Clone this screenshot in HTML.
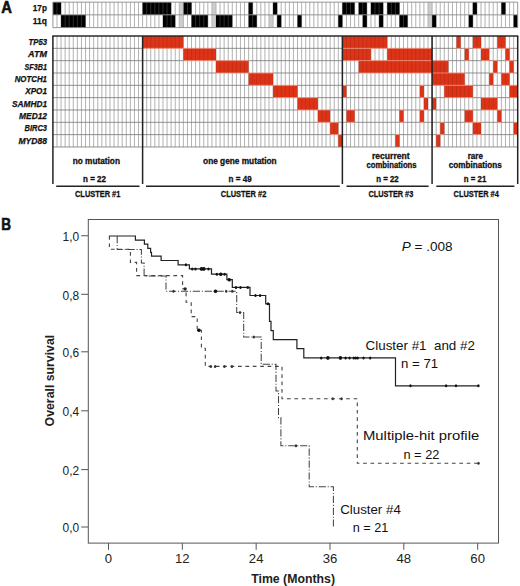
<!DOCTYPE html>
<html><head><meta charset="utf-8"><style>
html,body{margin:0;padding:0;background:#fff;}
svg{display:block;}
svg text{font-family:"Liberation Sans", sans-serif;}
</style></head><body>
<svg width="520" height="586" viewBox="0 0 520 586">
<rect width="520" height="586" fill="#fff"/>
<path d="M56.98 2.15V27.6M56.98 36.0V146.97M61.05 2.15V27.6M61.05 36.0V146.97M65.13 2.15V27.6M65.13 36.0V146.97M69.21 2.15V27.6M69.21 36.0V146.97M73.29 2.15V27.6M73.29 36.0V146.97M77.36 2.15V27.6M77.36 36.0V146.97M81.44 2.15V27.6M81.44 36.0V146.97M85.52 2.15V27.6M85.52 36.0V146.97M89.59 2.15V27.6M89.59 36.0V146.97M93.67 2.15V27.6M93.67 36.0V146.97M97.75 2.15V27.6M97.75 36.0V146.97M101.83 2.15V27.6M101.83 36.0V146.97M105.90 2.15V27.6M105.90 36.0V146.97M109.98 2.15V27.6M109.98 36.0V146.97M114.06 2.15V27.6M114.06 36.0V146.97M118.14 2.15V27.6M118.14 36.0V146.97M122.21 2.15V27.6M122.21 36.0V146.97M126.29 2.15V27.6M126.29 36.0V146.97M130.37 2.15V27.6M130.37 36.0V146.97M134.44 2.15V27.6M134.44 36.0V146.97M138.52 2.15V27.6M138.52 36.0V146.97M142.60 2.15V27.6M142.60 36.0V146.97M146.68 2.15V27.6M146.68 36.0V146.97M150.75 2.15V27.6M150.75 36.0V146.97M154.83 2.15V27.6M154.83 36.0V146.97M158.91 2.15V27.6M158.91 36.0V146.97M162.98 2.15V27.6M162.98 36.0V146.97M167.06 2.15V27.6M167.06 36.0V146.97M171.14 2.15V27.6M171.14 36.0V146.97M175.22 2.15V27.6M175.22 36.0V146.97M179.29 2.15V27.6M179.29 36.0V146.97M183.37 2.15V27.6M183.37 36.0V146.97M187.45 2.15V27.6M187.45 36.0V146.97M191.52 2.15V27.6M191.52 36.0V146.97M195.60 2.15V27.6M195.60 36.0V146.97M199.68 2.15V27.6M199.68 36.0V146.97M203.76 2.15V27.6M203.76 36.0V146.97M207.83 2.15V27.6M207.83 36.0V146.97M211.91 2.15V27.6M211.91 36.0V146.97M215.99 2.15V27.6M215.99 36.0V146.97M220.07 2.15V27.6M220.07 36.0V146.97M224.14 2.15V27.6M224.14 36.0V146.97M228.22 2.15V27.6M228.22 36.0V146.97M232.30 2.15V27.6M232.30 36.0V146.97M236.37 2.15V27.6M236.37 36.0V146.97M240.45 2.15V27.6M240.45 36.0V146.97M244.53 2.15V27.6M244.53 36.0V146.97M248.61 2.15V27.6M248.61 36.0V146.97M252.68 2.15V27.6M252.68 36.0V146.97M256.76 2.15V27.6M256.76 36.0V146.97M260.84 2.15V27.6M260.84 36.0V146.97M264.91 2.15V27.6M264.91 36.0V146.97M268.99 2.15V27.6M268.99 36.0V146.97M273.07 2.15V27.6M273.07 36.0V146.97M277.15 2.15V27.6M277.15 36.0V146.97M281.22 2.15V27.6M281.22 36.0V146.97M285.30 2.15V27.6M285.30 36.0V146.97M289.38 2.15V27.6M289.38 36.0V146.97M293.45 2.15V27.6M293.45 36.0V146.97M297.53 2.15V27.6M297.53 36.0V146.97M301.61 2.15V27.6M301.61 36.0V146.97M305.69 2.15V27.6M305.69 36.0V146.97M309.76 2.15V27.6M309.76 36.0V146.97M313.84 2.15V27.6M313.84 36.0V146.97M317.92 2.15V27.6M317.92 36.0V146.97M322.00 2.15V27.6M322.00 36.0V146.97M326.07 2.15V27.6M326.07 36.0V146.97M330.15 2.15V27.6M330.15 36.0V146.97M334.23 2.15V27.6M334.23 36.0V146.97M338.30 2.15V27.6M338.30 36.0V146.97M342.38 2.15V27.6M342.38 36.0V146.97M346.46 2.15V27.6M346.46 36.0V146.97M350.54 2.15V27.6M350.54 36.0V146.97M354.61 2.15V27.6M354.61 36.0V146.97M358.69 2.15V27.6M358.69 36.0V146.97M362.77 2.15V27.6M362.77 36.0V146.97M366.84 2.15V27.6M366.84 36.0V146.97M370.92 2.15V27.6M370.92 36.0V146.97M375.00 2.15V27.6M375.00 36.0V146.97M379.08 2.15V27.6M379.08 36.0V146.97M383.15 2.15V27.6M383.15 36.0V146.97M387.23 2.15V27.6M387.23 36.0V146.97M391.31 2.15V27.6M391.31 36.0V146.97M395.38 2.15V27.6M395.38 36.0V146.97M399.46 2.15V27.6M399.46 36.0V146.97M403.54 2.15V27.6M403.54 36.0V146.97M407.62 2.15V27.6M407.62 36.0V146.97M411.69 2.15V27.6M411.69 36.0V146.97M415.77 2.15V27.6M415.77 36.0V146.97M419.85 2.15V27.6M419.85 36.0V146.97M423.93 2.15V27.6M423.93 36.0V146.97M428.00 2.15V27.6M428.00 36.0V146.97M432.08 2.15V27.6M432.08 36.0V146.97M436.16 2.15V27.6M436.16 36.0V146.97M440.23 2.15V27.6M440.23 36.0V146.97M444.31 2.15V27.6M444.31 36.0V146.97M448.39 2.15V27.6M448.39 36.0V146.97M452.47 2.15V27.6M452.47 36.0V146.97M456.54 2.15V27.6M456.54 36.0V146.97M460.62 2.15V27.6M460.62 36.0V146.97M464.70 2.15V27.6M464.70 36.0V146.97M468.77 2.15V27.6M468.77 36.0V146.97M472.85 2.15V27.6M472.85 36.0V146.97M476.93 2.15V27.6M476.93 36.0V146.97M481.01 2.15V27.6M481.01 36.0V146.97M485.08 2.15V27.6M485.08 36.0V146.97M489.16 2.15V27.6M489.16 36.0V146.97M493.24 2.15V27.6M493.24 36.0V146.97M497.31 2.15V27.6M497.31 36.0V146.97M501.39 2.15V27.6M501.39 36.0V146.97M505.47 2.15V27.6M505.47 36.0V146.97M509.55 2.15V27.6M509.55 36.0V146.97M513.62 2.15V27.6M513.62 36.0V146.97" stroke="#bcbcbc" stroke-width="0.8" fill="none"/>
<rect x="52.90" y="2.15" width="8.15" height="12.70" fill="#000"/>
<rect x="142.60" y="2.15" width="28.54" height="12.70" fill="#000"/>
<rect x="183.37" y="2.15" width="8.15" height="12.70" fill="#000"/>
<rect x="248.61" y="2.15" width="4.08" height="12.70" fill="#000"/>
<rect x="273.07" y="2.15" width="4.08" height="12.70" fill="#000"/>
<rect x="342.38" y="2.15" width="12.23" height="12.70" fill="#000"/>
<rect x="358.69" y="2.15" width="8.15" height="12.70" fill="#000"/>
<rect x="370.92" y="2.15" width="12.23" height="12.70" fill="#000"/>
<rect x="387.23" y="2.15" width="12.23" height="12.70" fill="#000"/>
<rect x="472.85" y="2.15" width="4.08" height="12.70" fill="#000"/>
<rect x="501.39" y="2.15" width="4.08" height="12.70" fill="#000"/>
<rect x="179.29" y="2.15" width="4.08" height="12.70" fill="#cdcdcd"/>
<rect x="211.91" y="2.15" width="4.08" height="12.70" fill="#cdcdcd"/>
<rect x="428.00" y="2.15" width="4.08" height="12.70" fill="#cdcdcd"/>
<rect x="61.05" y="14.85" width="24.46" height="12.75" fill="#000"/>
<rect x="162.98" y="14.85" width="12.23" height="12.75" fill="#000"/>
<rect x="191.52" y="14.85" width="16.31" height="12.75" fill="#000"/>
<rect x="215.99" y="14.85" width="16.31" height="12.75" fill="#000"/>
<rect x="248.61" y="14.85" width="8.15" height="12.75" fill="#000"/>
<rect x="277.15" y="14.85" width="4.08" height="12.75" fill="#000"/>
<rect x="297.53" y="14.85" width="4.08" height="12.75" fill="#000"/>
<rect x="338.30" y="14.85" width="4.08" height="12.75" fill="#000"/>
<rect x="362.77" y="14.85" width="4.08" height="12.75" fill="#000"/>
<rect x="379.08" y="14.85" width="4.08" height="12.75" fill="#000"/>
<rect x="399.46" y="14.85" width="8.15" height="12.75" fill="#000"/>
<rect x="432.08" y="14.85" width="4.08" height="12.75" fill="#000"/>
<rect x="468.77" y="14.85" width="4.08" height="12.75" fill="#000"/>
<rect x="513.62" y="14.85" width="4.08" height="12.75" fill="#000"/>
<rect x="179.29" y="14.85" width="4.08" height="12.75" fill="#cdcdcd"/>
<rect x="211.91" y="14.85" width="4.08" height="12.75" fill="#cdcdcd"/>
<rect x="268.99" y="14.85" width="4.08" height="12.75" fill="#cdcdcd"/>
<rect x="428.00" y="14.85" width="4.08" height="12.75" fill="#cdcdcd"/>
<rect x="142.60" y="36.00" width="40.77" height="12.33" fill="#dd3418"/>
<rect x="342.38" y="36.00" width="44.85" height="12.33" fill="#dd3418"/>
<rect x="456.54" y="36.00" width="4.08" height="12.33" fill="#dd3418"/>
<rect x="472.85" y="36.00" width="8.15" height="12.33" fill="#dd3418"/>
<rect x="497.31" y="36.00" width="8.15" height="12.33" fill="#dd3418"/>
<rect x="183.37" y="48.33" width="32.62" height="12.33" fill="#dd3418"/>
<rect x="342.38" y="48.33" width="28.54" height="12.33" fill="#dd3418"/>
<rect x="387.23" y="48.33" width="44.85" height="12.33" fill="#dd3418"/>
<rect x="464.70" y="48.33" width="4.08" height="12.33" fill="#dd3418"/>
<rect x="481.01" y="48.33" width="8.15" height="12.33" fill="#dd3418"/>
<rect x="505.47" y="48.33" width="4.08" height="12.33" fill="#dd3418"/>
<rect x="215.99" y="60.66" width="32.62" height="12.33" fill="#dd3418"/>
<rect x="358.69" y="60.66" width="89.70" height="12.33" fill="#dd3418"/>
<rect x="493.24" y="60.66" width="4.08" height="12.33" fill="#dd3418"/>
<rect x="509.55" y="60.66" width="4.08" height="12.33" fill="#dd3418"/>
<rect x="248.61" y="72.99" width="24.46" height="12.33" fill="#dd3418"/>
<rect x="432.08" y="72.99" width="32.62" height="12.33" fill="#dd3418"/>
<rect x="489.16" y="72.99" width="4.08" height="12.33" fill="#dd3418"/>
<rect x="501.39" y="72.99" width="8.15" height="12.33" fill="#dd3418"/>
<rect x="273.07" y="85.32" width="24.46" height="12.33" fill="#dd3418"/>
<rect x="342.38" y="85.32" width="4.08" height="12.33" fill="#dd3418"/>
<rect x="419.85" y="85.32" width="4.08" height="12.33" fill="#dd3418"/>
<rect x="444.31" y="85.32" width="28.54" height="12.33" fill="#dd3418"/>
<rect x="509.55" y="85.32" width="8.15" height="12.33" fill="#dd3418"/>
<rect x="297.53" y="97.65" width="20.39" height="12.33" fill="#dd3418"/>
<rect x="423.93" y="97.65" width="4.08" height="12.33" fill="#dd3418"/>
<rect x="432.08" y="97.65" width="4.08" height="12.33" fill="#dd3418"/>
<rect x="481.01" y="97.65" width="16.31" height="12.33" fill="#dd3418"/>
<rect x="317.92" y="109.98" width="12.23" height="12.33" fill="#dd3418"/>
<rect x="346.46" y="109.98" width="8.15" height="12.33" fill="#dd3418"/>
<rect x="399.46" y="109.98" width="4.08" height="12.33" fill="#dd3418"/>
<rect x="419.85" y="109.98" width="4.08" height="12.33" fill="#dd3418"/>
<rect x="464.70" y="109.98" width="8.15" height="12.33" fill="#dd3418"/>
<rect x="497.31" y="109.98" width="4.08" height="12.33" fill="#dd3418"/>
<rect x="330.15" y="122.31" width="8.15" height="12.33" fill="#dd3418"/>
<rect x="440.23" y="122.31" width="4.08" height="12.33" fill="#dd3418"/>
<rect x="472.85" y="122.31" width="8.15" height="12.33" fill="#dd3418"/>
<rect x="513.62" y="122.31" width="4.08" height="12.33" fill="#dd3418"/>
<rect x="338.30" y="134.64" width="4.08" height="12.33" fill="#dd3418"/>
<rect x="395.38" y="134.64" width="4.08" height="12.33" fill="#dd3418"/>
<rect x="436.16" y="134.64" width="4.08" height="12.33" fill="#dd3418"/>
<path d="M56.98 2.15V27.6M56.98 36.0V146.97M61.05 2.15V27.6M61.05 36.0V146.97M65.13 2.15V27.6M65.13 36.0V146.97M69.21 2.15V27.6M69.21 36.0V146.97M73.29 2.15V27.6M73.29 36.0V146.97M77.36 2.15V27.6M77.36 36.0V146.97M81.44 2.15V27.6M81.44 36.0V146.97M85.52 2.15V27.6M85.52 36.0V146.97M89.59 2.15V27.6M89.59 36.0V146.97M93.67 2.15V27.6M93.67 36.0V146.97M97.75 2.15V27.6M97.75 36.0V146.97M101.83 2.15V27.6M101.83 36.0V146.97M105.90 2.15V27.6M105.90 36.0V146.97M109.98 2.15V27.6M109.98 36.0V146.97M114.06 2.15V27.6M114.06 36.0V146.97M118.14 2.15V27.6M118.14 36.0V146.97M122.21 2.15V27.6M122.21 36.0V146.97M126.29 2.15V27.6M126.29 36.0V146.97M130.37 2.15V27.6M130.37 36.0V146.97M134.44 2.15V27.6M134.44 36.0V146.97M138.52 2.15V27.6M138.52 36.0V146.97M142.60 2.15V27.6M142.60 36.0V146.97M146.68 2.15V27.6M146.68 36.0V146.97M150.75 2.15V27.6M150.75 36.0V146.97M154.83 2.15V27.6M154.83 36.0V146.97M158.91 2.15V27.6M158.91 36.0V146.97M162.98 2.15V27.6M162.98 36.0V146.97M167.06 2.15V27.6M167.06 36.0V146.97M171.14 2.15V27.6M171.14 36.0V146.97M175.22 2.15V27.6M175.22 36.0V146.97M179.29 2.15V27.6M179.29 36.0V146.97M183.37 2.15V27.6M183.37 36.0V146.97M187.45 2.15V27.6M187.45 36.0V146.97M191.52 2.15V27.6M191.52 36.0V146.97M195.60 2.15V27.6M195.60 36.0V146.97M199.68 2.15V27.6M199.68 36.0V146.97M203.76 2.15V27.6M203.76 36.0V146.97M207.83 2.15V27.6M207.83 36.0V146.97M211.91 2.15V27.6M211.91 36.0V146.97M215.99 2.15V27.6M215.99 36.0V146.97M220.07 2.15V27.6M220.07 36.0V146.97M224.14 2.15V27.6M224.14 36.0V146.97M228.22 2.15V27.6M228.22 36.0V146.97M232.30 2.15V27.6M232.30 36.0V146.97M236.37 2.15V27.6M236.37 36.0V146.97M240.45 2.15V27.6M240.45 36.0V146.97M244.53 2.15V27.6M244.53 36.0V146.97M248.61 2.15V27.6M248.61 36.0V146.97M252.68 2.15V27.6M252.68 36.0V146.97M256.76 2.15V27.6M256.76 36.0V146.97M260.84 2.15V27.6M260.84 36.0V146.97M264.91 2.15V27.6M264.91 36.0V146.97M268.99 2.15V27.6M268.99 36.0V146.97M273.07 2.15V27.6M273.07 36.0V146.97M277.15 2.15V27.6M277.15 36.0V146.97M281.22 2.15V27.6M281.22 36.0V146.97M285.30 2.15V27.6M285.30 36.0V146.97M289.38 2.15V27.6M289.38 36.0V146.97M293.45 2.15V27.6M293.45 36.0V146.97M297.53 2.15V27.6M297.53 36.0V146.97M301.61 2.15V27.6M301.61 36.0V146.97M305.69 2.15V27.6M305.69 36.0V146.97M309.76 2.15V27.6M309.76 36.0V146.97M313.84 2.15V27.6M313.84 36.0V146.97M317.92 2.15V27.6M317.92 36.0V146.97M322.00 2.15V27.6M322.00 36.0V146.97M326.07 2.15V27.6M326.07 36.0V146.97M330.15 2.15V27.6M330.15 36.0V146.97M334.23 2.15V27.6M334.23 36.0V146.97M338.30 2.15V27.6M338.30 36.0V146.97M342.38 2.15V27.6M342.38 36.0V146.97M346.46 2.15V27.6M346.46 36.0V146.97M350.54 2.15V27.6M350.54 36.0V146.97M354.61 2.15V27.6M354.61 36.0V146.97M358.69 2.15V27.6M358.69 36.0V146.97M362.77 2.15V27.6M362.77 36.0V146.97M366.84 2.15V27.6M366.84 36.0V146.97M370.92 2.15V27.6M370.92 36.0V146.97M375.00 2.15V27.6M375.00 36.0V146.97M379.08 2.15V27.6M379.08 36.0V146.97M383.15 2.15V27.6M383.15 36.0V146.97M387.23 2.15V27.6M387.23 36.0V146.97M391.31 2.15V27.6M391.31 36.0V146.97M395.38 2.15V27.6M395.38 36.0V146.97M399.46 2.15V27.6M399.46 36.0V146.97M403.54 2.15V27.6M403.54 36.0V146.97M407.62 2.15V27.6M407.62 36.0V146.97M411.69 2.15V27.6M411.69 36.0V146.97M415.77 2.15V27.6M415.77 36.0V146.97M419.85 2.15V27.6M419.85 36.0V146.97M423.93 2.15V27.6M423.93 36.0V146.97M428.00 2.15V27.6M428.00 36.0V146.97M432.08 2.15V27.6M432.08 36.0V146.97M436.16 2.15V27.6M436.16 36.0V146.97M440.23 2.15V27.6M440.23 36.0V146.97M444.31 2.15V27.6M444.31 36.0V146.97M448.39 2.15V27.6M448.39 36.0V146.97M452.47 2.15V27.6M452.47 36.0V146.97M456.54 2.15V27.6M456.54 36.0V146.97M460.62 2.15V27.6M460.62 36.0V146.97M464.70 2.15V27.6M464.70 36.0V146.97M468.77 2.15V27.6M468.77 36.0V146.97M472.85 2.15V27.6M472.85 36.0V146.97M476.93 2.15V27.6M476.93 36.0V146.97M481.01 2.15V27.6M481.01 36.0V146.97M485.08 2.15V27.6M485.08 36.0V146.97M489.16 2.15V27.6M489.16 36.0V146.97M493.24 2.15V27.6M493.24 36.0V146.97M497.31 2.15V27.6M497.31 36.0V146.97M501.39 2.15V27.6M501.39 36.0V146.97M505.47 2.15V27.6M505.47 36.0V146.97M509.55 2.15V27.6M509.55 36.0V146.97M513.62 2.15V27.6M513.62 36.0V146.97" stroke="#000" stroke-opacity="0.14" stroke-width="0.8" fill="none"/>
<path d="M56.98 2.15V14.85M146.68 2.15V14.85M150.75 2.15V14.85M154.83 2.15V14.85M158.91 2.15V14.85M162.98 2.15V14.85M167.06 2.15V14.85M187.45 2.15V14.85M346.46 2.15V14.85M350.54 2.15V14.85M362.77 2.15V14.85M375.00 2.15V14.85M379.08 2.15V14.85M391.31 2.15V14.85M395.38 2.15V14.85M65.13 14.85V27.60M69.21 14.85V27.60M73.29 14.85V27.60M77.36 14.85V27.60M81.44 14.85V27.60M167.06 14.85V27.60M171.14 14.85V27.60M195.60 14.85V27.60M199.68 14.85V27.60M203.76 14.85V27.60M220.07 14.85V27.60M224.14 14.85V27.60M228.22 14.85V27.60M252.68 14.85V27.60M403.54 14.85V27.60" stroke="#fff" stroke-opacity="0.22" stroke-width="0.8" fill="none"/>
<path d="M52.9 2.15H517.70M52.9 14.85H517.70M52.9 27.6H517.70M52.9 2.15V27.6M517.70 2.15V27.6" stroke="#8a8a8a" stroke-width="0.9" fill="none"/>
<path d="M52.90 48.33H142.60M215.99 48.33H342.38M432.08 48.33H456.54M460.62 48.33H464.70M468.77 48.33H472.85M489.16 48.33H497.31M509.55 48.33H517.70M52.90 60.66H183.37M248.61 60.66H342.38M448.39 60.66H464.70M468.77 60.66H481.01M489.16 60.66H493.24M497.31 60.66H505.47M513.62 60.66H517.70M52.90 72.99H215.99M273.07 72.99H358.69M464.70 72.99H489.16M497.31 72.99H501.39M513.62 72.99H517.70M52.90 85.32H248.61M297.53 85.32H342.38M346.46 85.32H419.85M423.93 85.32H432.08M472.85 85.32H489.16M493.24 85.32H501.39M52.90 97.65H273.07M317.92 97.65H342.38M346.46 97.65H419.85M428.00 97.65H432.08M436.16 97.65H444.31M472.85 97.65H481.01M497.31 97.65H509.55M52.90 109.98H297.53M330.15 109.98H346.46M354.61 109.98H399.46M403.54 109.98H419.85M428.00 109.98H432.08M436.16 109.98H464.70M472.85 109.98H481.01M501.39 109.98H517.70M52.90 122.31H317.92M338.30 122.31H346.46M354.61 122.31H399.46M403.54 122.31H419.85M423.93 122.31H440.23M444.31 122.31H464.70M481.01 122.31H497.31M501.39 122.31H513.62M52.90 134.64H330.15M342.38 134.64H395.38M399.46 134.64H436.16M444.31 134.64H472.85M481.01 134.64H513.62" stroke="#7c7c7c" stroke-width="0.85" fill="none"/>
<path d="M142.60 48.33H215.99M342.38 48.33H432.08M456.54 48.33H460.62M464.70 48.33H468.77M472.85 48.33H489.16M497.31 48.33H509.55M183.37 60.66H248.61M342.38 60.66H448.39M464.70 60.66H468.77M481.01 60.66H489.16M493.24 60.66H497.31M505.47 60.66H513.62M215.99 72.99H273.07M358.69 72.99H464.70M489.16 72.99H497.31M501.39 72.99H513.62M248.61 85.32H297.53M342.38 85.32H346.46M419.85 85.32H423.93M432.08 85.32H472.85M489.16 85.32H493.24M501.39 85.32H517.70M273.07 97.65H317.92M342.38 97.65H346.46M419.85 97.65H428.00M432.08 97.65H436.16M444.31 97.65H472.85M481.01 97.65H497.31M509.55 97.65H517.70M297.53 109.98H330.15M346.46 109.98H354.61M399.46 109.98H403.54M419.85 109.98H428.00M432.08 109.98H436.16M464.70 109.98H472.85M481.01 109.98H501.39M317.92 122.31H338.30M346.46 122.31H354.61M399.46 122.31H403.54M419.85 122.31H423.93M440.23 122.31H444.31M464.70 122.31H481.01M497.31 122.31H501.39M513.62 122.31H517.70M330.15 134.64H342.38M395.38 134.64H399.46M436.16 134.64H444.31M472.85 134.64H481.01M513.62 134.64H517.70" stroke="#e98a76" stroke-width="0.9" fill="none"/>
<path d="M52.9 146.97H517.70" stroke="#7c7c7c" stroke-width="0.85" fill="none"/>
<path d="M52.3 36.0H518.30" stroke="#2a2a2a" stroke-width="1.5" fill="none"/>
<path d="M52.90 36.0V184.0" stroke="#222" stroke-width="1.5" fill="none"/>
<path d="M142.60 36.0V184.0" stroke="#222" stroke-width="1.5" fill="none"/>
<path d="M342.38 36.0V184.0" stroke="#222" stroke-width="1.5" fill="none"/>
<path d="M432.08 36.0V184.0" stroke="#222" stroke-width="1.5" fill="none"/>
<path d="M517.70 36.0V184.0" stroke="#222" stroke-width="1.5" fill="none"/>
<path d="M56.2 186.3H139.5" stroke="#222" stroke-width="1.5" fill="none"/>
<path d="M146.0 186.3H339.8" stroke="#222" stroke-width="1.5" fill="none"/>
<path d="M346.5 186.3H428.6" stroke="#222" stroke-width="1.5" fill="none"/>
<path d="M436.3 186.3H514.4" stroke="#222" stroke-width="1.5" fill="none"/>
<text x="1.2" y="12.6" font-family="Liberation Sans, sans-serif" font-size="16.2" font-weight="bold" font-style="normal" text-anchor="start" fill="#111" textLength="10.7" lengthAdjust="spacingAndGlyphs" stroke="#111" stroke-width="0.6">A</text>
<text x="32.8" y="10.85" font-family="Liberation Sans, sans-serif" font-size="8.6" font-weight="bold" font-style="normal" text-anchor="start" fill="#111" textLength="14.1" lengthAdjust="spacingAndGlyphs" stroke="#111" stroke-width="0.25">17p</text>
<text x="32.8" y="23.7" font-family="Liberation Sans, sans-serif" font-size="8.6" font-weight="bold" font-style="normal" text-anchor="start" fill="#111" textLength="14.1" lengthAdjust="spacingAndGlyphs" stroke="#111" stroke-width="0.25">11q</text>
<text x="28.5" y="44.95" font-family="Liberation Sans, sans-serif" font-size="8.5" font-weight="bold" font-style="italic" text-anchor="start" fill="#111" textLength="18.5" lengthAdjust="spacingAndGlyphs" stroke="#111" stroke-width="0.25">TP53</text>
<text x="28.1" y="57.28" font-family="Liberation Sans, sans-serif" font-size="8.5" font-weight="bold" font-style="italic" text-anchor="start" fill="#111" textLength="18.9" lengthAdjust="spacingAndGlyphs" stroke="#111" stroke-width="0.25">ATM</text>
<text x="24.5" y="69.61" font-family="Liberation Sans, sans-serif" font-size="8.5" font-weight="bold" font-style="italic" text-anchor="start" fill="#111" textLength="22.5" lengthAdjust="spacingAndGlyphs" stroke="#111" stroke-width="0.25">SF3B1</text>
<text x="14.7" y="81.94" font-family="Liberation Sans, sans-serif" font-size="8.5" font-weight="bold" font-style="italic" text-anchor="start" fill="#111" textLength="32.3" lengthAdjust="spacingAndGlyphs" stroke="#111" stroke-width="0.25">NOTCH1</text>
<text x="25.2" y="94.27" font-family="Liberation Sans, sans-serif" font-size="8.5" font-weight="bold" font-style="italic" text-anchor="start" fill="#111" textLength="21.8" lengthAdjust="spacingAndGlyphs" stroke="#111" stroke-width="0.25">XPO1</text>
<text x="12.0" y="106.60" font-family="Liberation Sans, sans-serif" font-size="8.5" font-weight="bold" font-style="italic" text-anchor="start" fill="#111" textLength="35.0" lengthAdjust="spacingAndGlyphs" stroke="#111" stroke-width="0.25">SAMHD1</text>
<text x="19.1" y="118.93" font-family="Liberation Sans, sans-serif" font-size="8.5" font-weight="bold" font-style="italic" text-anchor="start" fill="#111" textLength="27.9" lengthAdjust="spacingAndGlyphs" stroke="#111" stroke-width="0.25">MED12</text>
<text x="24.5" y="131.26" font-family="Liberation Sans, sans-serif" font-size="8.5" font-weight="bold" font-style="italic" text-anchor="start" fill="#111" textLength="22.5" lengthAdjust="spacingAndGlyphs" stroke="#111" stroke-width="0.25">BIRC3</text>
<text x="18.4" y="143.59" font-family="Liberation Sans, sans-serif" font-size="8.5" font-weight="bold" font-style="italic" text-anchor="start" fill="#111" textLength="28.6" lengthAdjust="spacingAndGlyphs" stroke="#111" stroke-width="0.25">MYD88</text>
<text x="72.75" y="163.5" font-family="Liberation Sans, sans-serif" font-size="8.6" font-weight="bold" font-style="normal" text-anchor="start" fill="#111" textLength="47.2" lengthAdjust="spacingAndGlyphs" stroke="#111" stroke-width="0.3">no mutation</text>
<text x="83.1" y="181.5" font-family="Liberation Sans, sans-serif" font-size="9.0" font-weight="bold" font-style="normal" text-anchor="start" fill="#111" textLength="22.9" lengthAdjust="spacingAndGlyphs" stroke="#111" stroke-width="0.3">n = 22</text>
<text x="75.0" y="197.2" font-family="Liberation Sans, sans-serif" font-size="9.9" font-weight="bold" font-style="normal" text-anchor="start" fill="#111" textLength="45.3" lengthAdjust="spacingAndGlyphs" stroke="#111" stroke-width="0.3">CLUSTER #1</text>
<text x="203.1" y="163.5" font-family="Liberation Sans, sans-serif" font-size="8.6" font-weight="bold" font-style="normal" text-anchor="start" fill="#111" textLength="73.6" lengthAdjust="spacingAndGlyphs" stroke="#111" stroke-width="0.3">one gene mutation</text>
<text x="228.6" y="181.5" font-family="Liberation Sans, sans-serif" font-size="9.0" font-weight="bold" font-style="normal" text-anchor="start" fill="#111" textLength="23.0" lengthAdjust="spacingAndGlyphs" stroke="#111" stroke-width="0.3">n = 49</text>
<text x="220.8" y="197.2" font-family="Liberation Sans, sans-serif" font-size="9.9" font-weight="bold" font-style="normal" text-anchor="start" fill="#111" textLength="45.5" lengthAdjust="spacingAndGlyphs" stroke="#111" stroke-width="0.3">CLUSTER #2</text>
<text x="372.0" y="159.0" font-family="Liberation Sans, sans-serif" font-size="8.6" font-weight="bold" font-style="normal" text-anchor="start" fill="#111" textLength="37.6" lengthAdjust="spacingAndGlyphs" stroke="#111" stroke-width="0.3">recurrent</text>
<text x="366.5" y="168.3" font-family="Liberation Sans, sans-serif" font-size="8.6" font-weight="bold" font-style="normal" text-anchor="start" fill="#111" textLength="50.1" lengthAdjust="spacingAndGlyphs" stroke="#111" stroke-width="0.3">combinations</text>
<text x="376.2" y="181.5" font-family="Liberation Sans, sans-serif" font-size="9.0" font-weight="bold" font-style="normal" text-anchor="start" fill="#111" textLength="22.5" lengthAdjust="spacingAndGlyphs" stroke="#111" stroke-width="0.3">n = 22</text>
<text x="368.4" y="197.2" font-family="Liberation Sans, sans-serif" font-size="9.9" font-weight="bold" font-style="normal" text-anchor="start" fill="#111" textLength="44.9" lengthAdjust="spacingAndGlyphs" stroke="#111" stroke-width="0.3">CLUSTER #3</text>
<text x="467.7" y="158.6" font-family="Liberation Sans, sans-serif" font-size="8.6" font-weight="bold" font-style="normal" text-anchor="start" fill="#111" textLength="15.3" lengthAdjust="spacingAndGlyphs" stroke="#111" stroke-width="0.3">rare</text>
<text x="448.8" y="168.3" font-family="Liberation Sans, sans-serif" font-size="8.6" font-weight="bold" font-style="normal" text-anchor="start" fill="#111" textLength="52.9" lengthAdjust="spacingAndGlyphs" stroke="#111" stroke-width="0.3">combinations</text>
<text x="463.8" y="181.5" font-family="Liberation Sans, sans-serif" font-size="9.0" font-weight="bold" font-style="normal" text-anchor="start" fill="#111" textLength="22.5" lengthAdjust="spacingAndGlyphs" stroke="#111" stroke-width="0.3">n = 21</text>
<text x="453.6" y="197.0" font-family="Liberation Sans, sans-serif" font-size="9.9" font-weight="bold" font-style="normal" text-anchor="start" fill="#111" textLength="45.2" lengthAdjust="spacingAndGlyphs" stroke="#111" stroke-width="0.3">CLUSTER #4</text>
<text x="1.3" y="229.5" font-family="Liberation Sans, sans-serif" font-size="16.8" font-weight="bold" font-style="normal" text-anchor="start" fill="#111" textLength="9.8" lengthAdjust="spacingAndGlyphs" stroke="#111" stroke-width="0.6">B</text>
<rect x="88.3" y="219.5" width="410.2" height="323.6" fill="none" stroke="#555" stroke-width="1"/>
<path d="M81.2 235.75H88.3" stroke="#555" stroke-width="1"/>
<text x="62.6" y="240.9" font-family="Liberation Sans, sans-serif" font-size="12.2" font-weight="normal" font-style="normal" text-anchor="start" fill="#222" textLength="16.6" lengthAdjust="spacingAndGlyphs">1,0</text>
<path d="M81.2 294.3H88.3" stroke="#555" stroke-width="1"/>
<text x="62.6" y="299.5" font-family="Liberation Sans, sans-serif" font-size="12.2" font-weight="normal" font-style="normal" text-anchor="start" fill="#222" textLength="16.6" lengthAdjust="spacingAndGlyphs">0,8</text>
<path d="M81.2 351.8H88.3" stroke="#555" stroke-width="1"/>
<text x="62.6" y="357.0" font-family="Liberation Sans, sans-serif" font-size="12.2" font-weight="normal" font-style="normal" text-anchor="start" fill="#222" textLength="16.6" lengthAdjust="spacingAndGlyphs">0,6</text>
<path d="M81.2 410.8H88.3" stroke="#555" stroke-width="1"/>
<text x="62.6" y="416.0" font-family="Liberation Sans, sans-serif" font-size="12.2" font-weight="normal" font-style="normal" text-anchor="start" fill="#222" textLength="16.6" lengthAdjust="spacingAndGlyphs">0,4</text>
<path d="M81.2 469.6H88.3" stroke="#555" stroke-width="1"/>
<text x="62.6" y="474.8" font-family="Liberation Sans, sans-serif" font-size="12.2" font-weight="normal" font-style="normal" text-anchor="start" fill="#222" textLength="16.6" lengthAdjust="spacingAndGlyphs">0,2</text>
<path d="M81.2 527.0H88.3" stroke="#555" stroke-width="1"/>
<text x="62.6" y="532.2" font-family="Liberation Sans, sans-serif" font-size="12.2" font-weight="normal" font-style="normal" text-anchor="start" fill="#222" textLength="16.6" lengthAdjust="spacingAndGlyphs">0,0</text>
<path d="M108.50 543.1V549.8" stroke="#555" stroke-width="1"/>
<text x="108.50" y="563.4" font-family="Liberation Sans, sans-serif" font-size="12.6" font-weight="normal" font-style="normal" text-anchor="middle" fill="#222" textLength="7.3" lengthAdjust="spacingAndGlyphs">0</text>
<path d="M182.34 543.1V549.8" stroke="#555" stroke-width="1"/>
<text x="182.34" y="563.4" font-family="Liberation Sans, sans-serif" font-size="12.6" font-weight="normal" font-style="normal" text-anchor="middle" fill="#222" textLength="14.6" lengthAdjust="spacingAndGlyphs">12</text>
<path d="M256.17 543.1V549.8" stroke="#555" stroke-width="1"/>
<text x="256.17" y="563.4" font-family="Liberation Sans, sans-serif" font-size="12.6" font-weight="normal" font-style="normal" text-anchor="middle" fill="#222" textLength="14.6" lengthAdjust="spacingAndGlyphs">24</text>
<path d="M330.01 543.1V549.8" stroke="#555" stroke-width="1"/>
<text x="330.01" y="563.4" font-family="Liberation Sans, sans-serif" font-size="12.6" font-weight="normal" font-style="normal" text-anchor="middle" fill="#222" textLength="14.6" lengthAdjust="spacingAndGlyphs">36</text>
<path d="M403.84 543.1V549.8" stroke="#555" stroke-width="1"/>
<text x="403.84" y="563.4" font-family="Liberation Sans, sans-serif" font-size="12.6" font-weight="normal" font-style="normal" text-anchor="middle" fill="#222" textLength="14.6" lengthAdjust="spacingAndGlyphs">48</text>
<path d="M477.68 543.1V549.8" stroke="#555" stroke-width="1"/>
<text x="477.68" y="563.4" font-family="Liberation Sans, sans-serif" font-size="12.6" font-weight="normal" font-style="normal" text-anchor="middle" fill="#222" textLength="14.6" lengthAdjust="spacingAndGlyphs">60</text>
<text x="251.2" y="583.3" font-family="Liberation Sans, sans-serif" font-size="12" font-weight="bold" font-style="normal" text-anchor="start" fill="#222" textLength="83.8" lengthAdjust="spacingAndGlyphs">Time (Months)</text>
<text transform="translate(53.9 426.4) rotate(-90)" font-family="Liberation Sans, sans-serif" font-size="12" font-weight="bold" fill="#222" textLength="91.6" lengthAdjust="spacingAndGlyphs">Overall survival</text>
<text x="401.7" y="250.8" font-family="Liberation Sans, sans-serif" font-size="13" fill="#111" textLength="50.8" lengthAdjust="spacingAndGlyphs"><tspan font-style="italic">P</tspan> = .008</text>
<text x="365.6" y="350.0" font-family="Liberation Sans, sans-serif" font-size="13.4" font-weight="normal" font-style="normal" text-anchor="start" fill="#111" textLength="109.3" lengthAdjust="spacingAndGlyphs" xml:space="preserve">Cluster #1  and #2</text>
<text x="401.0" y="367.6" font-family="Liberation Sans, sans-serif" font-size="13.4" font-weight="normal" font-style="normal" text-anchor="start" fill="#111" textLength="37.1" lengthAdjust="spacingAndGlyphs">n = 71</text>
<text x="363.0" y="440.3" font-family="Liberation Sans, sans-serif" font-size="13.4" font-weight="normal" font-style="normal" text-anchor="start" fill="#111" textLength="116.2" lengthAdjust="spacingAndGlyphs">Multiple-hit profile</text>
<text x="403.4" y="459.0" font-family="Liberation Sans, sans-serif" font-size="13.4" font-weight="normal" font-style="normal" text-anchor="start" fill="#111" textLength="36.0" lengthAdjust="spacingAndGlyphs">n = 22</text>
<text x="340.2" y="513.7" font-family="Liberation Sans, sans-serif" font-size="13.4" font-weight="normal" font-style="normal" text-anchor="start" fill="#111" textLength="60.6" lengthAdjust="spacingAndGlyphs">Cluster #4</text>
<text x="352.7" y="531.5" font-family="Liberation Sans, sans-serif" font-size="13.4" font-weight="normal" font-style="normal" text-anchor="start" fill="#111" textLength="35.6" lengthAdjust="spacingAndGlyphs">n = 21</text>
<path d="M117.2 236V249.5H141.4V263H144.1V276H166V291.3H236.7V312.4H243.7V337H261.2V364.2H276V391H278.5V417.6H280.9V445.8H309.2V486.7H333.4V526.5" fill="none" stroke="#444" stroke-width="1.05" stroke-dasharray="7.2 1.8 1.1 1.8"/>
<path d="M109.4 236V249.3H130.4V262.4H136.6V275.6H182.6V288.7H186.1V302.2H191.2V316.6H197.2V330.3H201.4V348.2H205.3V366.4H282V398.8H357.3V463.3H478" fill="none" stroke="#444" stroke-width="1.1" stroke-dasharray="3.7 3.7"/>
<path d="M109.1 236H135.4V240.1H144.4V244.2H147.8V248.3H150.6V252.4H151.5V256.1H161.1V260.5H178.1V264.8H189.4V268.9H211.5V274.2H226.9V279.7H232.3V287.4H250V295.5H265.7V303.8H269.5V321.4H271V330.6H273.3V339.7H296.9V348.7H303.8V357.9H395.5V385.8H478.6" fill="none" stroke="#222" stroke-width="1.2"/>
<ellipse cx="185.9" cy="264.8" rx="1.2" ry="1.5" fill="#111"/>
<ellipse cx="192.3" cy="268.9" rx="1.2" ry="1.5" fill="#111"/><ellipse cx="195.4" cy="268.9" rx="1.2" ry="1.5" fill="#111"/><ellipse cx="201.5" cy="268.9" rx="1.2" ry="1.5" fill="#111"/><ellipse cx="203.8" cy="268.9" rx="1.2" ry="1.5" fill="#111"/><ellipse cx="208.5" cy="268.9" rx="1.2" ry="1.5" fill="#111"/>
<ellipse cx="216.9" cy="274.2" rx="1.2" ry="1.5" fill="#111"/><ellipse cx="220.8" cy="274.2" rx="1.2" ry="1.5" fill="#111"/><ellipse cx="224.6" cy="274.2" rx="1.2" ry="1.5" fill="#111"/>
<ellipse cx="229.2" cy="279.7" rx="1.2" ry="1.5" fill="#111"/>
<ellipse cx="236.0" cy="287.4" rx="1.2" ry="1.5" fill="#111"/><ellipse cx="240.5" cy="287.4" rx="1.2" ry="1.5" fill="#111"/><ellipse cx="247.8" cy="287.4" rx="1.2" ry="1.5" fill="#111"/>
<ellipse cx="255.5" cy="295.5" rx="1.2" ry="1.5" fill="#111"/><ellipse cx="260.1" cy="295.5" rx="1.2" ry="1.5" fill="#111"/>
<ellipse cx="268.0" cy="303.8" rx="1.2" ry="1.5" fill="#111"/>
<ellipse cx="321.2" cy="357.9" rx="1.2" ry="1.5" fill="#111"/><ellipse cx="327.9" cy="357.9" rx="1.2" ry="1.5" fill="#111"/><ellipse cx="340.4" cy="357.9" rx="1.2" ry="1.5" fill="#111"/><ellipse cx="345.6" cy="357.9" rx="1.2" ry="1.5" fill="#111"/><ellipse cx="349.6" cy="357.9" rx="1.2" ry="1.5" fill="#111"/><ellipse cx="353.8" cy="357.9" rx="1.2" ry="1.5" fill="#111"/><ellipse cx="355.8" cy="357.9" rx="1.2" ry="1.5" fill="#111"/><ellipse cx="357.7" cy="357.9" rx="1.2" ry="1.5" fill="#111"/><ellipse cx="363.5" cy="357.9" rx="1.2" ry="1.5" fill="#111"/><ellipse cx="370.2" cy="357.9" rx="1.2" ry="1.5" fill="#111"/>
<ellipse cx="410.5" cy="385.8" rx="1.2" ry="1.5" fill="#111"/><ellipse cx="446.1" cy="385.8" rx="1.2" ry="1.5" fill="#111"/><ellipse cx="456.0" cy="385.8" rx="1.2" ry="1.5" fill="#111"/><ellipse cx="478.4" cy="385.8" rx="1.2" ry="1.5" fill="#111"/>
<circle cx="185.1" cy="288.9" r="1.6" fill="#222"/>
<ellipse cx="198.9" cy="330.3" rx="1.2" ry="1.5" fill="#333"/>
<ellipse cx="210.8" cy="366.4" rx="1.2" ry="1.5" fill="#333"/><ellipse cx="215.1" cy="366.4" rx="1.2" ry="1.5" fill="#333"/><ellipse cx="224.4" cy="366.4" rx="1.2" ry="1.5" fill="#333"/><ellipse cx="231.9" cy="366.4" rx="1.2" ry="1.5" fill="#333"/>
<ellipse cx="332.7" cy="398.8" rx="1.2" ry="1.5" fill="#333"/><ellipse cx="341.5" cy="398.8" rx="1.2" ry="1.5" fill="#333"/>
<ellipse cx="478.5" cy="463.3" rx="1.2" ry="1.5" fill="#333"/>
<ellipse cx="173.5" cy="291.3" rx="1.2" ry="1.5" fill="#333"/><ellipse cx="215.5" cy="291.3" rx="1.2" ry="1.5" fill="#333"/><ellipse cx="226.2" cy="291.3" rx="1.2" ry="1.5" fill="#333"/><ellipse cx="232.3" cy="291.3" rx="1.2" ry="1.5" fill="#333"/>
<ellipse cx="240.0" cy="312.4" rx="1.2" ry="1.5" fill="#333"/>
<ellipse cx="253.8" cy="337.0" rx="1.2" ry="1.5" fill="#333"/>
<ellipse cx="296.0" cy="445.8" rx="1.2" ry="1.5" fill="#333"/>
<circle cx="220.8" cy="274.2" r="1.8" fill="#111"/>
<circle cx="229.2" cy="279.7" r="1.8" fill="#111"/>
<circle cx="327.9" cy="357.9" r="1.8" fill="#111"/>
<circle cx="340.4" cy="357.9" r="1.8" fill="#111"/>
<circle cx="201.5" cy="268.9" r="1.8" fill="#111"/>
<circle cx="203.8" cy="268.9" r="1.8" fill="#111"/>
<circle cx="215.5" cy="291.3" r="1.8" fill="#111"/>
<circle cx="198.9" cy="330.3" r="1.8" fill="#111"/>
</svg>
</body></html>
